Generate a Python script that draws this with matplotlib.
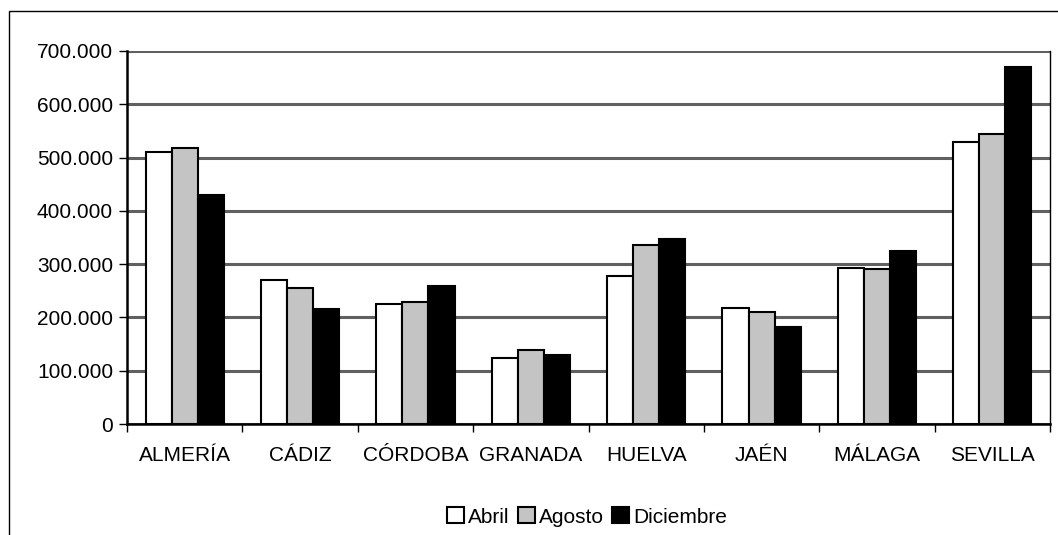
import numpy as np
import matplotlib.pyplot as plt
from matplotlib.patches import Rectangle

provincias = ['ALMERÍA', 'CÁDIZ', 'CÓRDOBA', 'GRANADA', 'HUELVA', 'JAÉN', 'MÁLAGA', 'SEVILLA']
abril = [511000, 271000, 226000, 124000, 278000, 218000, 293000, 529000]
agosto = [518000, 255000, 229000, 139000, 335000, 210000, 290000, 545000]
diciembre = [430000, 215000, 259000, 129000, 347000, 182000, 325000, 670000]
series = ['Abril', 'Agosto', 'Diciembre']

plt.rcParams['font.family'] = ['Liberation Sans', 'DejaVu Sans']

fig = plt.figure(figsize=(10.58, 5.35), dpi=100)
fig.patches.append(Rectangle((9 / 1058, -0.1), 1.2, 1 - 11 / 535 + 0.1,
                             transform=fig.transFigure, fill=False,
                             edgecolor='black', linewidth=1))
ax = fig.add_axes([127 / 1058, 1 - 424 / 535, 923 / 1058, 373 / 535])

x = np.arange(len(provincias))
w = 0.226
colores = ['white', '#c4c4c4', 'black']
for i, (vals, c) in enumerate(zip([abril, agosto, diciembre], colores)):
    ax.bar(x + (i - 1) * w, vals, width=w, color=c, edgecolor='black',
           linewidth=1.5, label=series[i], zorder=3)

ax.set_xlim(-0.5, len(provincias) - 0.5)
ax.set_ylim(0, 700000)
ax.set_yticks(np.arange(0, 700001, 100000))
ax.set_yticklabels(['0'] + ['{:,}'.format(v).replace(',', '.') for v in range(100000, 700001, 100000)])
ax.yaxis.grid(True, color='#606060', linewidth=2.2, zorder=1)
ax.set_axisbelow(True)

ax.set_xticks(x)
ax.set_xticklabels(provincias)
ax.set_xticks(np.arange(-0.5, len(provincias)), minor=True)
ax.tick_params(axis='x', which='major', length=0, pad=16, labelsize=15)
ax.tick_params(axis='x', which='minor', length=6, width=1, direction='out')
ax.tick_params(axis='y', length=6, width=1, labelsize=15, pad=4)

for s in ['left', 'bottom']:
    ax.spines[s].set_linewidth(1.8)
ax.spines['top'].set_visible(False)
ax.spines['right'].set_linewidth(1)

fig.legend(loc='center', bbox_to_anchor=(0.555, 1 - 517 / 535), ncol=3, frameon=False,
           fontsize=15, handlelength=0.8, handleheight=0.8, handletextpad=0.2,
           columnspacing=0.4)

fig.savefig('out.png', dpi=100)
